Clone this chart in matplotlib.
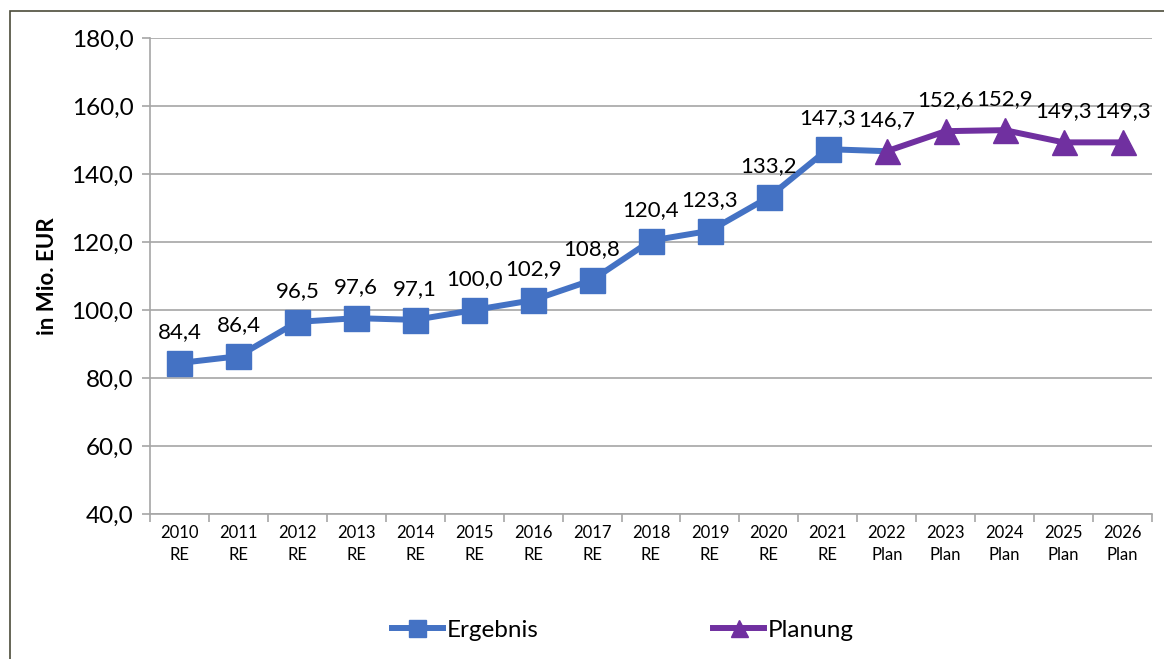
import numpy as np
import matplotlib.pyplot as plt
from matplotlib.patches import Rectangle
from matplotlib.ticker import FuncFormatter

plt.rcParams['font.family'] = ['Lato', 'DejaVu Sans']

# data
years = ["2010", "2011", "2012", "2013", "2014", "2015", "2016", "2017", "2018",
         "2019", "2020", "2021", "2022", "2023", "2024", "2025", "2026"]
kinds = ["RE"] * 12 + ["Plan"] * 5
ergebnis = [84.4, 86.4, 96.5, 97.6, 97.1, 100.0, 102.9, 108.8, 120.4, 123.3, 133.2, 147.3]
planung = [146.7, 152.6, 152.9, 149.3, 149.3]

blue = "#4472C4"
purple = "#7030A0"
grid = "#A6A6A6"

x = np.arange(len(years))
x_erg = x[:len(ergebnis)]
x_plan = x[len(ergebnis):]

fig = plt.figure(figsize=(11.64, 6.59), dpi=100)
ax = fig.add_axes([150 / 1164, 1 - 514 / 659, (1152 - 150) / 1164, (514 - 38) / 659])

# outer border (left and top visible)
fig.patches.append(Rectangle((9.5 / 1164, -0.1), 1.2, 1 - 11 / 659 + 0.1,
                             transform=fig.transFigure, fill=False,
                             edgecolor="#4b4b3a", linewidth=1.2))

# blue line continues up to 2022, markers only on RE years
ax.plot(np.append(x_erg, x_plan[0]), ergebnis + [planung[0]], color=blue,
        linewidth=4.3, marker="s", markersize=18, markevery=list(range(len(ergebnis))),
        label="Ergebnis", zorder=3)
ax.plot(x_plan, planung, color=purple, linewidth=4.3, marker="^", markersize=18,
        label="Planung", zorder=4)

def fmt(v):
    return f"{v:.1f}".replace(".", ",")

for xi, v in zip(x_erg, ergebnis):
    ax.annotate(fmt(v), (xi, v), xytext=(0, 15), textcoords="offset points",
                ha="center", va="bottom", fontsize=16)
for xi, v in zip(x_plan, planung):
    ax.annotate(fmt(v), (xi, v), xytext=(0, 15), textcoords="offset points",
                ha="center", va="bottom", fontsize=16)

ax.set_ylim(40, 180)
ax.set_yticks(np.arange(40, 181, 20))
ax.yaxis.set_major_formatter(FuncFormatter(lambda v, p: fmt(v)))
ax.set_xlim(-0.5, len(years) - 0.5)
ax.set_xticks(x)
ax.set_xticklabels([f"{y}\n{k}" for y, k in zip(years, kinds)], fontsize=12,
                   linespacing=1.45)
ax.set_xticks(np.arange(-0.5, len(years)), minor=True)
ax.tick_params(axis="x", which="major", length=0, pad=8)
ax.tick_params(axis="x", which="minor", length=6, color=grid, width=1.2)
ax.tick_params(axis="y", length=6, color=grid, width=1.2, labelsize=17.5, pad=6)

ax.grid(axis="y", color=grid, linewidth=1.2)
ax.set_axisbelow(True)
for s in ["top", "right"]:
    ax.spines[s].set_visible(False)
for s in ["left", "bottom"]:
    ax.spines[s].set_color(grid)
    ax.spines[s].set_linewidth(1.2)

ax.set_ylabel("in Mio. EUR", fontsize=16, fontweight="bold", labelpad=10)

fig.legend(loc="center", bbox_to_anchor=(0.535, 1 - 630 / 659), ncol=2,
           frameon=False, fontsize=17.5, handlelength=2.1, handletextpad=0.15,
           columnspacing=7.2, markerscale=0.68)

fig.savefig("out.png", dpi=100)
